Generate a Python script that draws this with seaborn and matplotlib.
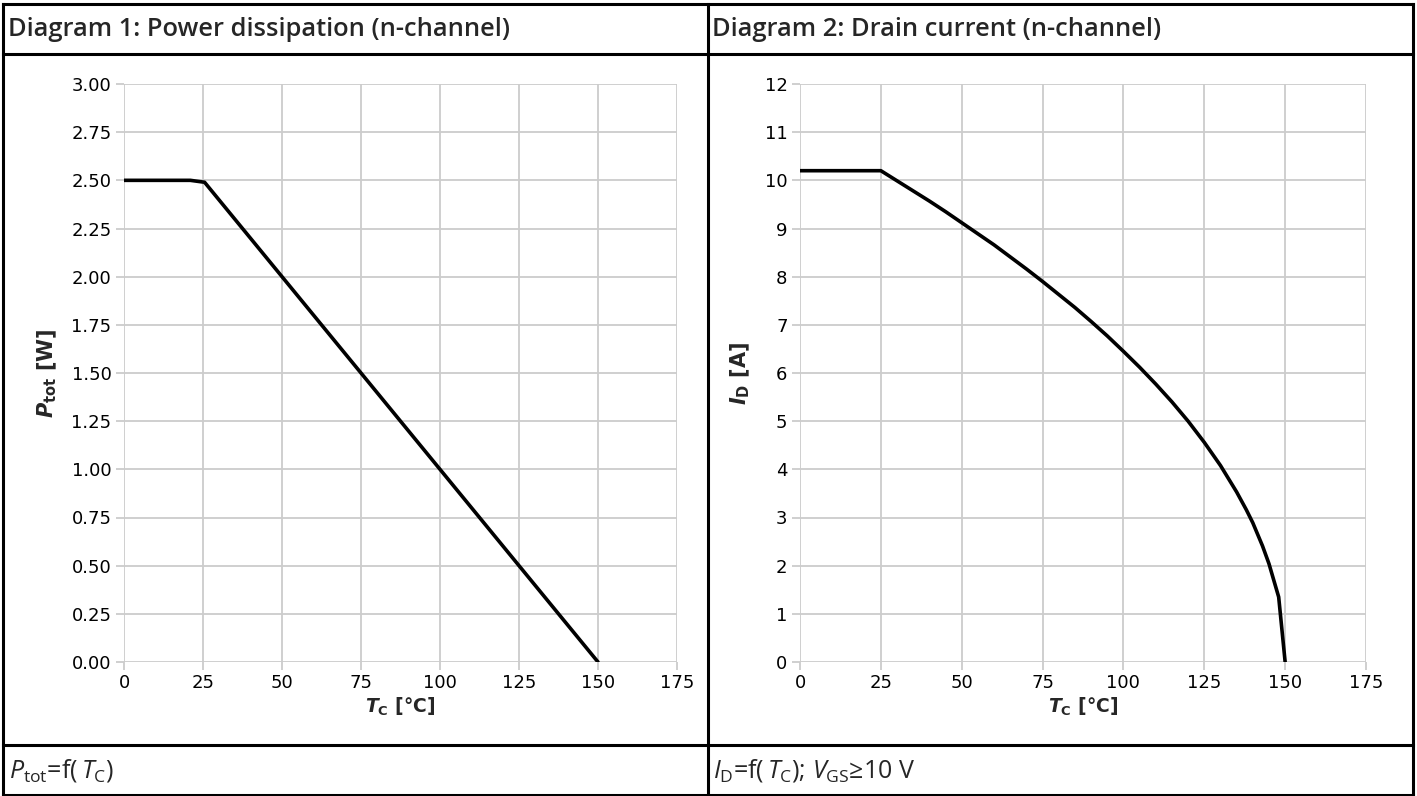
import matplotlib
matplotlib.use("Agg")
import matplotlib.pyplot as plt
import seaborn as sns
import pandas as pd
from matplotlib.lines import Line2D

# ---- data ----
p_temp = [0, 21, 25.5, 150]
p_power = [2.5, 2.5, 2.49, 0.0]

i_temp = [0, 25, 30, 35, 40, 45, 50, 55, 60, 65, 70, 75, 80, 85, 90, 95, 100,
          105, 110, 115, 120, 125, 130, 135, 138, 140, 143, 145, 148, 150]
i_current = [10.2, 10.2, 9.99, 9.78, 9.57, 9.35, 9.12, 8.89, 8.66, 8.41, 8.16, 7.9,
             7.63, 7.36, 7.07, 6.77, 6.45, 6.12, 5.77, 5.4, 5.0, 4.56, 4.08, 3.53,
             3.16, 2.89, 2.41, 2.04, 1.35, 0.0]

x_ticks = [0, 25, 50, 75, 100, 125, 150, 175]
p_ticks = [0.0, 0.25, 0.5, 0.75, 1.0, 1.25, 1.5, 1.75, 2.0, 2.25, 2.5, 2.75, 3.0]
i_ticks = list(range(0, 13))

titles = ["Diagram 1: Power dissipation (n-channel)", "Diagram 2: Drain current (n-channel)"]
captions = [r"$\mathit{P}_{\mathrm{tot}}$=f(" + "\u2009" + r"$\mathit{T}_{\mathrm{C}}$)",
            r"$\mathit{I}_{\mathrm{D}}$=f(" + "\u2009" + r"$\mathit{T}_{\mathrm{C}}$); $\mathit{V}_{\mathrm{GS}}$≥10 V"]

sns.set_style("white")
plt.rcParams['font.family'] = ['DejaVu Sans']
plt.rcParams['mathtext.fontset'] = 'custom'
plt.rcParams['mathtext.rm'] = 'Open Sans'
plt.rcParams['mathtext.it'] = 'Open Sans:italic'
plt.rcParams['mathtext.bf'] = 'DejaVu Sans:bold'
plt.rcParams['mathtext.bfit'] = 'DejaVu Sans:italic:bold'

W, H = 1417, 796
fig = plt.figure(figsize=(W / 100, H / 100), dpi=100)

def fx(px):
    return px / W

def fy(py):
    return 1 - py / H

# table frame
lw = 2.2
for (x0, y0, x1, y1) in [(3, 4, 1413, 4), (3, 54, 1413, 54), (3, 745, 1413, 745),
                         (3, 795, 1413, 795), (3, 4, 3, 795), (1413, 4, 1413, 795),
                         (708, 4, 708, 795)]:
    fig.add_artist(Line2D([fx(x0), fx(x1)], [fy(y0), fy(y1)], color='black', lw=lw,
                          transform=fig.transFigure, solid_capstyle='projecting'))

head_font = dict(family=['Open Sans', 'DejaVu Sans'], fontweight='semibold', fontsize=18.4)
fig.text(fx(8), fy(29), titles[0], ha='left', va='center', **head_font)
fig.text(fx(712), fy(29), titles[1], ha='left', va='center', **head_font)

cap_font = dict(family=['Open Sans', 'DejaVu Sans'], fontsize=18)
fig.text(fx(9), fy(771), captions[0], ha='left', va='center', **cap_font)
fig.text(fx(713), fy(771), captions[1], ha='left', va='center', **cap_font)

def style_axes(ax, yticks, yfmt, ylabel):
    ax.set_xlim(0, 175)
    ax.set_ylim(yticks[0], yticks[-1])
    ax.set_xticks(x_ticks)
    ax.set_yticks(yticks)
    ax.set_yticklabels([yfmt.format(v) for v in yticks])
    ax.grid(True, color='#cccccc', lw=1.3)
    for s in ax.spines.values():
        s.set_visible(False)
    ax.tick_params(axis='both', which='both', length=6, width=1.3, color='#cccccc',
                   labelsize=13, labelcolor='black', pad=3, bottom=True, left=True,
                   labelfontfamily='DejaVu Sans')
    ax.set_xlabel(r"$\mathbfit{T}_{\mathbf{C}}$ [°C]", fontsize=13.5, fontweight='bold',
                  family='DejaVu Sans', labelpad=2)
    ax.set_ylabel(ylabel, fontsize=15, fontweight='bold', family='DejaVu Sans', labelpad=9)

ax1 = fig.add_axes([fx(124), fy(662), fx(677) - fx(124), fy(84) - fy(662)])
df1 = pd.DataFrame({"T": p_temp, "P": p_power})
sns.lineplot(data=df1, x="T", y="P", ax=ax1, color='black', lw=2.6, sort=False)
style_axes(ax1, p_ticks, "{:.2f}", r"$\mathbfit{P}_{\mathbf{tot}}$ [W]")

ax2 = fig.add_axes([fx(800), fy(662), fx(1366) - fx(800), fy(84) - fy(662)])
df2 = pd.DataFrame({"T": i_temp, "I": i_current})
sns.lineplot(data=df2, x="T", y="I", ax=ax2, color='black', lw=2.6, sort=False)
style_axes(ax2, i_ticks, "{:d}", r"$\mathbfit{I}_{\mathbf{D}}$ [A]")

fig.savefig("out.png", dpi=100)
